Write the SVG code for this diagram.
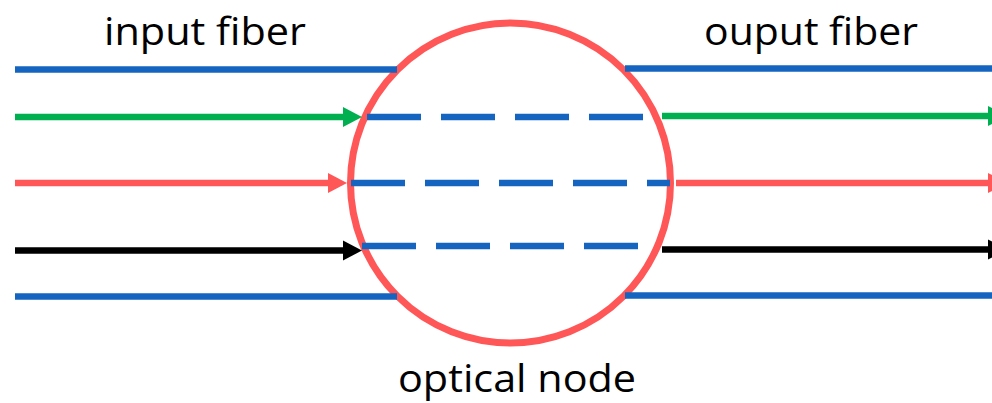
<svg xmlns="http://www.w3.org/2000/svg" width="992" height="403" viewBox="0 0 992 403">
  <style>
    .label { font-family: "Open Sans", "Liberation Sans", sans-serif; font-size: 38px; fill: #000; }
    .fiber { stroke: #1565C0; stroke-width: 6.5; fill: none; }
    .dash { stroke: #1565C0; stroke-width: 6.5; fill: none; stroke-dasharray: 54 20; }
    .green { stroke: #00B050; stroke-width: 6.5; fill: none; }
    .red { stroke: #FF5757; stroke-width: 6.5; fill: none; }
    .black { stroke: #000; stroke-width: 6.5; fill: none; }
  </style>
  <defs>
    <marker id="arrow-green" markerUnits="userSpaceOnUse" markerWidth="20" markerHeight="20" refX="0" refY="10" orient="auto" overflow="visible">
      <path d="M0,0 L19,10 L0,20 Z" fill="#00B050"/>
    </marker>
    <marker id="arrow-red" markerUnits="userSpaceOnUse" markerWidth="20" markerHeight="20" refX="0" refY="10" orient="auto" overflow="visible">
      <path d="M0,0 L19,10 L0,20 Z" fill="#FF5757"/>
    </marker>
    <marker id="arrow-black" markerUnits="userSpaceOnUse" markerWidth="20" markerHeight="20" refX="0" refY="10" orient="auto" overflow="visible">
      <path d="M0,0 L19,10 L0,20 Z" fill="#000"/>
    </marker>
  </defs>

  <rect width="992" height="403" fill="#fff"/>

  <!-- the switching node -->
  <g id="optical-node">
    <circle cx="510.5" cy="183" r="160" fill="none" stroke="#FF5757" stroke-width="7"/>
    <text class="label" x="517" y="392" text-anchor="middle" textLength="238" lengthAdjust="spacingAndGlyphs">optical node</text>
  </g>

  <g id="input-fiber">
    <text class="label" x="104" y="45" textLength="202" lengthAdjust="spacingAndGlyphs">input fiber</text>
  </g>

  <g id="output-fiber">
    <text class="label" x="704" y="45" textLength="214" lengthAdjust="spacingAndGlyphs">ouput fiber</text>
  </g>

  <g id="connectors">
    <!-- fiber boundaries -->
    <line class="fiber" x1="15" y1="69.5" x2="397" y2="69.5"/>
    <line class="fiber" x1="625" y1="68.5" x2="992" y2="68.5"/>
    <line class="fiber" x1="15" y1="296.5" x2="397" y2="296.5"/>
    <line class="fiber" x1="625" y1="295.5" x2="992" y2="295.5"/>

    <!-- incoming wavelengths -->
    <line class="green" x1="15" y1="117" x2="343" y2="117" marker-end="url(#arrow-green)"/>
    <line class="red" x1="15" y1="183" x2="328" y2="183" marker-end="url(#arrow-red)"/>
    <line class="black" x1="15" y1="250.5" x2="343" y2="250.5" marker-end="url(#arrow-black)"/>

    <!-- paths through the node -->
    <line class="dash" x1="367" y1="117" x2="643" y2="117"/>
    <line class="dash" x1="351" y1="183" x2="670" y2="183"/>
    <line class="dash" x1="362" y1="246" x2="638" y2="246"/>

    <!-- outgoing wavelengths -->
    <line class="green" x1="662" y1="116" x2="988" y2="116" marker-end="url(#arrow-green)"/>
    <line class="red" x1="676" y1="183" x2="988" y2="183" marker-end="url(#arrow-red)"/>
    <line class="black" x1="662" y1="249.5" x2="988" y2="249.5" marker-end="url(#arrow-black)"/>
  </g>
</svg>
